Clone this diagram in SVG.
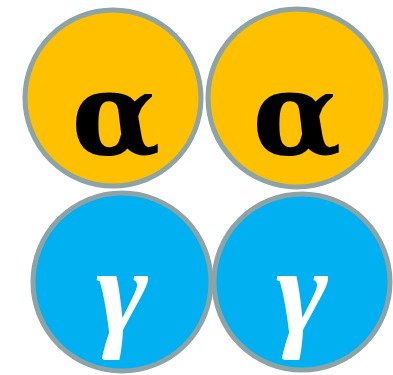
<svg xmlns="http://www.w3.org/2000/svg" width="393" height="375" viewBox="0 0 393 375">
<style>
.c{stroke:#8DA3A6;stroke-width:5}
.a{fill:#FFC000}
.g{fill:#00B0F0}
.ta{font-family:"DejaVu Serif",serif;font-weight:bold;font-size:116px;fill:#000;text-anchor:middle}
.tg{font-family:"Liberation Serif",serif;font-style:italic;font-weight:bold;font-size:125px;fill:#fff;text-anchor:middle}
</style>
<rect width="393" height="375" fill="#fff"/>
<g id="alpha1"><circle class="c a" cx="113" cy="98" r="88"/><text class="ta" x="116" y="154">α</text></g>
<g id="alpha2"><circle class="c a" cx="297" cy="98" r="89"/><text class="ta" x="297" y="154">α</text></g>
<g id="gamma1"><circle class="c g" cx="122" cy="282" r="89"/><text class="tg" x="122" y="333">γ</text></g>
<g id="gamma2"><circle class="c g" cx="302" cy="282" r="88"/><text class="tg" x="302" y="333">γ</text></g>
<g id="connectors"/>
</svg>
